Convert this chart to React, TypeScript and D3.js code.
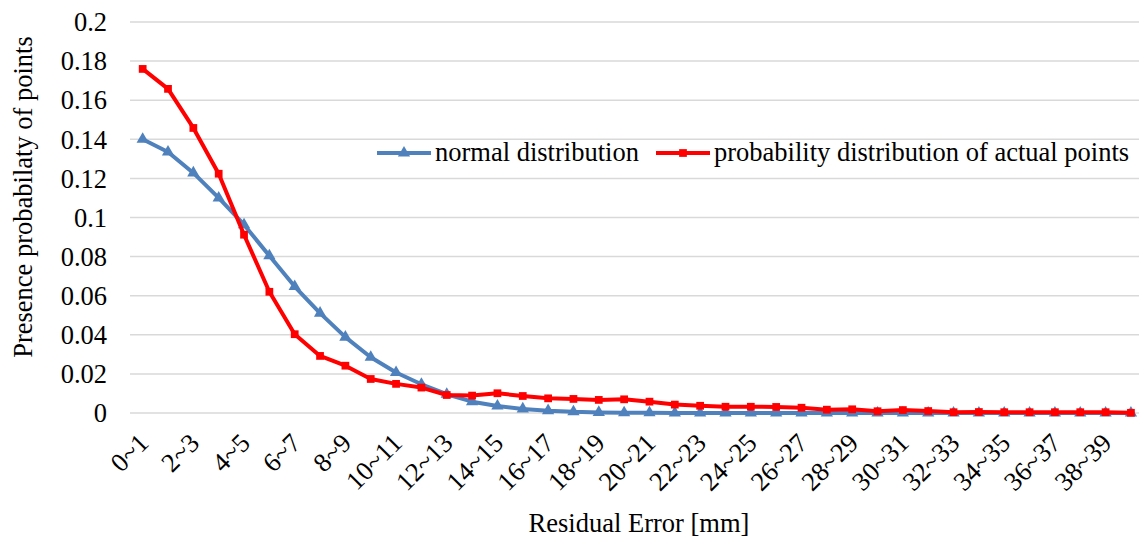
import React, { useEffect, useRef } from 'react';
import * as d3 from 'd3';

const categories = [
  '0~1', '1~2', '2~3', '3~4', '4~5', '5~6', '6~7', '7~8', '8~9', '9~10',
  '10~11', '11~12', '12~13', '13~14', '14~15', '15~16', '16~17', '17~18', '18~19', '19~20',
  '20~21', '21~22', '22~23', '23~24', '24~25', '25~26', '26~27', '27~28', '28~29', '29~30',
  '30~31', '31~32', '32~33', '33~34', '34~35', '35~36', '36~37', '37~38', '38~39', '39~40'
];

const normalValues = [
  0.140, 0.1335, 0.1228, 0.110, 0.0963, 0.0804, 0.0647, 0.0511, 0.0388, 0.0285,
  0.0207, 0.0147, 0.0096, 0.0058, 0.0036, 0.0021, 0.0012, 0.0006, 0.0003, 0.0001,
  0.0001, 0, 0, 0, 0, 0, 0, 0, 0, 0,
  0, 0, 0, 0, 0, 0, 0, 0, 0, 0
];

const actualValues = [
  0.176, 0.1658, 0.1458, 0.1224, 0.0912, 0.062, 0.0403, 0.0292, 0.0242, 0.0174,
  0.0149, 0.013, 0.0092, 0.0089, 0.0101, 0.0087, 0.0075, 0.0072, 0.0067, 0.0070,
  0.0058, 0.0043, 0.0037, 0.0032, 0.0032, 0.0031, 0.0027, 0.0017, 0.0019, 0.0009,
  0.0015, 0.001, 0.0004, 0.0005, 0.0004, 0.0004, 0.0004, 0.0004, 0.0004, 0.0001
];

const yTicks = [0, 0.02, 0.04, 0.06, 0.08, 0.1, 0.12, 0.14, 0.16, 0.18, 0.2];

const seriesNames = ['normal distribution', 'probability distribution of actual points'];

const FONT = "'Liberation Serif', 'Times New Roman', Times, serif";
const FS = 26.5;

const App = () => {
  const ref = useRef<SVGSVGElement>(null);

  useEffect(() => {
    const width = 1139;
    const height = 538;
    const left = 130, right = 1143.6, top = 22, bottom = 413;

    const svg = d3.select(ref.current)
      .attr('width', width)
      .attr('height', height)
      .attr('font-family', FONT);
    svg.selectAll('*').remove();

    const x = d3.scalePoint<string>()
      .domain(categories)
      .range([left, right])
      .padding(0.5);

    const y = d3.scaleLinear()
      .domain([0, 0.2])
      .range([bottom, top]);

    // gridlines
    svg.append('g')
      .selectAll('line')
      .data(yTicks)
      .join('line')
      .attr('x1', left)
      .attr('x2', right)
      .attr('y1', d => y(d))
      .attr('y2', d => y(d))
      .attr('stroke', '#d9d9d9')
      .attr('stroke-width', 1.5);

    // y tick labels
    svg.append('g')
      .selectAll('text')
      .data(yTicks)
      .join('text')
      .attr('x', 107)
      .attr('y', d => y(d))
      .attr('dy', '0.35em')
      .attr('text-anchor', 'end')
      .attr('font-size', FS)
      .attr('fill', '#000')
      .text(d => String(+d.toFixed(2)));

    // x tick labels, every other category
    svg.append('g')
      .selectAll('text')
      .data(categories.filter((_, i) => i % 2 === 0))
      .join('text')
      .attr('transform', d => `translate(${x(d)! + 1},${bottom + 25}) rotate(-45)`)
      .attr('dy', '0.35em')
      .attr('text-anchor', 'end')
      .attr('font-size', FS)
      .attr('fill', '#000')
      .text(d => d);

    // axis titles
    svg.append('text')
      .attr('x', 639)
      .attr('y', 532)
      .attr('text-anchor', 'middle')
      .attr('font-size', FS)
      .text('Residual Error [mm]');

    svg.append('text')
      .attr('transform', `translate(32,197) rotate(-90)`)
      .attr('text-anchor', 'middle')
      .attr('font-size', FS)
      .text('Presence probabilaty of points');

    const line = d3.line<number>()
      .x((_, i) => x(categories[i])!)
      .y(d => y(d));

    const triangle = d3.symbol().type(d3.symbolTriangle).size(65);
    const square = d3.symbol().type(d3.symbolSquare).size(60);

    // normal distribution
    svg.append('path')
      .datum(normalValues)
      .attr('fill', 'none')
      .attr('stroke', '#4f81bd')
      .attr('stroke-width', 4)
      .attr('stroke-linejoin', 'round')
      .attr('d', line);

    svg.append('g')
      .selectAll('path')
      .data(normalValues)
      .join('path')
      .attr('transform', (d, i) => `translate(${x(categories[i])},${y(d)})`)
      .attr('fill', '#4f81bd')
      .attr('d', triangle());

    // actual points
    svg.append('path')
      .datum(actualValues)
      .attr('fill', 'none')
      .attr('stroke', '#ff0000')
      .attr('stroke-width', 4)
      .attr('stroke-linejoin', 'round')
      .attr('d', line);

    svg.append('g')
      .selectAll('path')
      .data(actualValues)
      .join('path')
      .attr('transform', (d, i) => `translate(${x(categories[i])},${y(d)})`)
      .attr('fill', '#ff0000')
      .attr('d', square());

    // legend
    const legend = [
      { name: seriesNames[0], color: '#4f81bd', x0: 377, sym: triangle },
      { name: seriesNames[1], color: '#ff0000', x0: 656, sym: square }
    ];
    const ly = 153;
    legend.forEach(l => {
      svg.append('line')
        .attr('x1', l.x0)
        .attr('x2', l.x0 + 54)
        .attr('y1', ly)
        .attr('y2', ly)
        .attr('stroke', l.color)
        .attr('stroke-width', 4);
      svg.append('path')
        .attr('transform', `translate(${l.x0 + 27},${ly})`)
        .attr('fill', l.color)
        .attr('d', l.sym());
      svg.append('text')
        .attr('x', l.x0 + 58)
        .attr('y', ly + 8)
        .attr('font-size', FS)
        .text(l.name);
    });
  }, []);

  return (
    <div style={{ position: 'absolute', left: 0, top: 0 }}>
      <svg ref={ref} style={{ display: 'block' }}></svg>
    </div>
  );
};

export default App;
